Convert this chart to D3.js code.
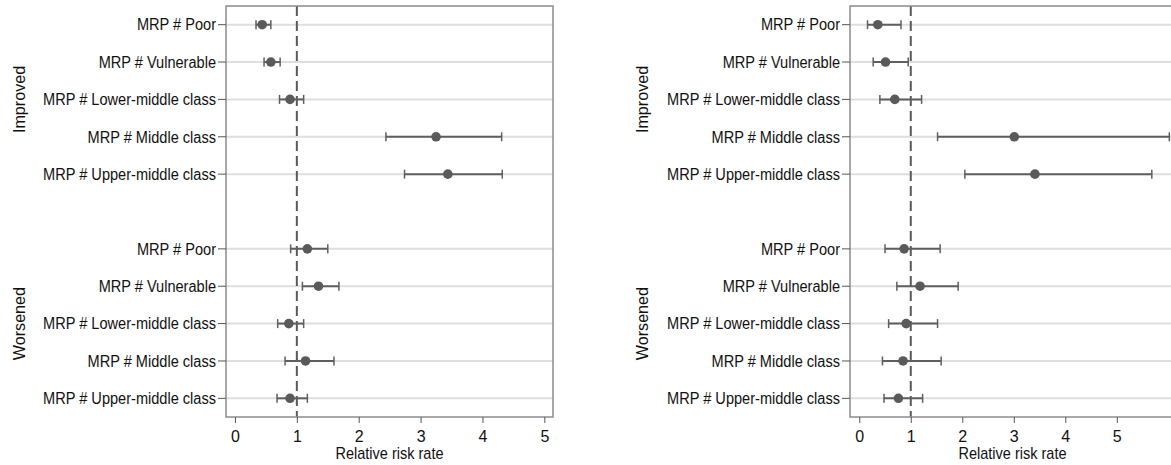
<!DOCTYPE html>
<html>
<head>
<meta charset="utf-8">
<script src="https://cdn.jsdelivr.net/npm/d3@7"></script>
<style>
  body { margin: 0; background: #fff; }
  svg { display: block; }
  text { font-family: "Liberation Sans", Arial, sans-serif; fill: #111; }
</style>
</head>
<body>
<svg id="svg"></svg>
<script>
const width = 1171;
const height = 465;

// category labels
const rowLabels = ["MRP # Poor", "MRP # Vulnerable", "MRP # Lower-middle class", "MRP # Middle class", "MRP # Upper-middle class"];
const groups = ["Improved", "Worsened"];
const xTicks = [0, 1, 2, 3, 4, 5];

// left panel: estimate, lower and upper CI (Improved rows then Worsened rows)
const leftEst = [0.44, 0.58, 0.89, 3.25, 3.44, 1.17, 1.35, 0.87, 1.14, 0.89];
const leftLo  = [0.34, 0.47, 0.72, 2.44, 2.74, 0.90, 1.09, 0.69, 0.81, 0.68];
const leftHi  = [0.58, 0.73, 1.11, 4.31, 4.32, 1.50, 1.68, 1.11, 1.60, 1.17];

// right panel
const rightEst = [0.36, 0.51, 0.69, 3.01, 3.41, 0.87, 1.18, 0.91, 0.85, 0.76];
const rightLo  = [0.16, 0.27, 0.40, 1.52, 2.05, 0.50, 0.73, 0.57, 0.45, 0.48];
const rightHi  = [0.81, 0.95, 1.21, 6.02, 5.68, 1.57, 1.92, 1.52, 1.59, 1.23];

let svg = d3.select("#svg").attr("width", width).attr("height", height);

const plotTop = 6, plotBottom = 417;

let yScale = d3.scaleLinear().domain([-0.5, 10.5]).range([plotTop, plotBottom]);

function rowPos(i) {
    // 5 rows per group with one empty slot between groups
    return i < 5 ? i : i + 1;
}

// stata text looks a bit condensed, squeeze it horizontally
function condense(sel, k) {
    sel.each(function() {
        let w = this.getComputedTextLength();
        d3.select(this)
            .attr("textLength", w * k)
            .attr("lengthAdjust", "spacingAndGlyphs");
    });
}

function drawPanel(x0, x1, domain, est, lo, hi, labelX) {
    let x = d3.scaleLinear().domain(domain).range([x0, x1]);
    let g = svg.append("g");

    let rows = est.map((d, i) => ({
        label: rowLabels[i % 5],
        pos: rowPos(i),
        est: d,
        lo: lo[i],
        hi: hi[i]
    }));

    // grid lines
    g.selectAll(".grid")
        .data(rows)
        .enter()
        .append("line")
            .attr("x1", x0)
            .attr("x2", x1)
            .attr("y1", d => yScale(d.pos))
            .attr("y2", d => yScale(d.pos))
            .attr("stroke", "#dedede")
            .attr("stroke-width", 2);

    // reference line at 1
    g.append("line")
        .attr("x1", x(1)).attr("x2", x(1))
        .attr("y1", plotTop).attr("y2", plotBottom)
        .attr("stroke", "#5a5a5a")
        .attr("stroke-width", 2)
        .attr("stroke-dasharray", "10,5");

    // frame
    g.append("rect")
        .attr("x", x0).attr("y", plotTop)
        .attr("width", x1 - x0).attr("height", plotBottom - plotTop)
        .attr("fill", "none")
        .attr("stroke", "#8c8c8c")
        .attr("stroke-width", 1.5);

    // y ticks and labels
    g.selectAll(".ytick")
        .data(rows)
        .enter()
        .append("line")
            .attr("x1", x0 - 8).attr("x2", x0)
            .attr("y1", d => yScale(d.pos)).attr("y2", d => yScale(d.pos))
            .attr("stroke", "#555")
            .attr("stroke-width", 1);

    g.selectAll(".ylab")
        .data(rows)
        .enter()
        .append("text")
            .attr("x", x0 - 10)
            .attr("y", d => yScale(d.pos))
            .attr("dy", "0.36em")
            .attr("text-anchor", "end")
            .style("font-size", "16px")
            .text(d => d.label)
            .call(condense, 0.91);

    // group labels
    groups.forEach((name, gi) => {
        let cy = yScale(gi * 6 + 2);
        g.append("text")
            .attr("transform", `translate(${labelX},${cy}) rotate(-90)`)
            .attr("text-anchor", "middle")
            .style("font-size", "17px")
            .text(name)
            .call(condense, 0.95);
    });

    // x axis
    let xAxis = d3.axisBottom(x).tickValues(xTicks).tickSize(6).tickFormat(d3.format("d"));
    let ax = g.append("g")
        .attr("transform", `translate(0,${plotBottom})`)
        .call(xAxis);
    ax.select(".domain").remove();
    ax.selectAll(".tick line").attr("stroke", "#555");
    ax.selectAll(".tick text")
        .attr("y", 11)
        .attr("dy", "0.9em")
        .style("font-size", "16px")
        .style("font-family", "Liberation Sans, Arial, sans-serif")
        .attr("fill", "#111");

    g.append("text")
        .attr("x", (x0 + x1) / 2)
        .attr("y", 459)
        .attr("text-anchor", "middle")
        .attr("textLength", 108)
        .attr("lengthAdjust", "spacingAndGlyphs")
        .style("font-size", "17px")
        .text("Relative risk rate");

    // error bars
    g.selectAll(".ci")
        .data(rows)
        .enter()
        .append("line")
            .attr("x1", d => x(d.lo)).attr("x2", d => x(d.hi))
            .attr("y1", d => yScale(d.pos)).attr("y2", d => yScale(d.pos))
            .attr("stroke", "#5f5f5f")
            .attr("stroke-width", 2);

    ["lo", "hi"].forEach(k => {
        g.selectAll(".cap-" + k)
            .data(rows)
            .enter()
            .append("line")
                .attr("x1", d => x(d[k])).attr("x2", d => x(d[k]))
                .attr("y1", d => yScale(d.pos) - 4.5).attr("y2", d => yScale(d.pos) + 4.5)
                .attr("stroke", "#5f5f5f")
                .attr("stroke-width", 1.5);
    });

    g.selectAll(".pt")
        .data(rows)
        .enter()
        .append("circle")
            .attr("cx", d => x(d.est))
            .attr("cy", d => yScale(d.pos))
            .attr("r", 4.8)
            .attr("fill", "#5a5a5a");
}

drawPanel(226, 553, [-0.145, 5.14], leftEst, leftLo, leftHi, 25);
drawPanel(850, 1175, [-0.18, 6.13], rightEst, rightLo, rightHi, 648);
</script>
</body>
</html>
